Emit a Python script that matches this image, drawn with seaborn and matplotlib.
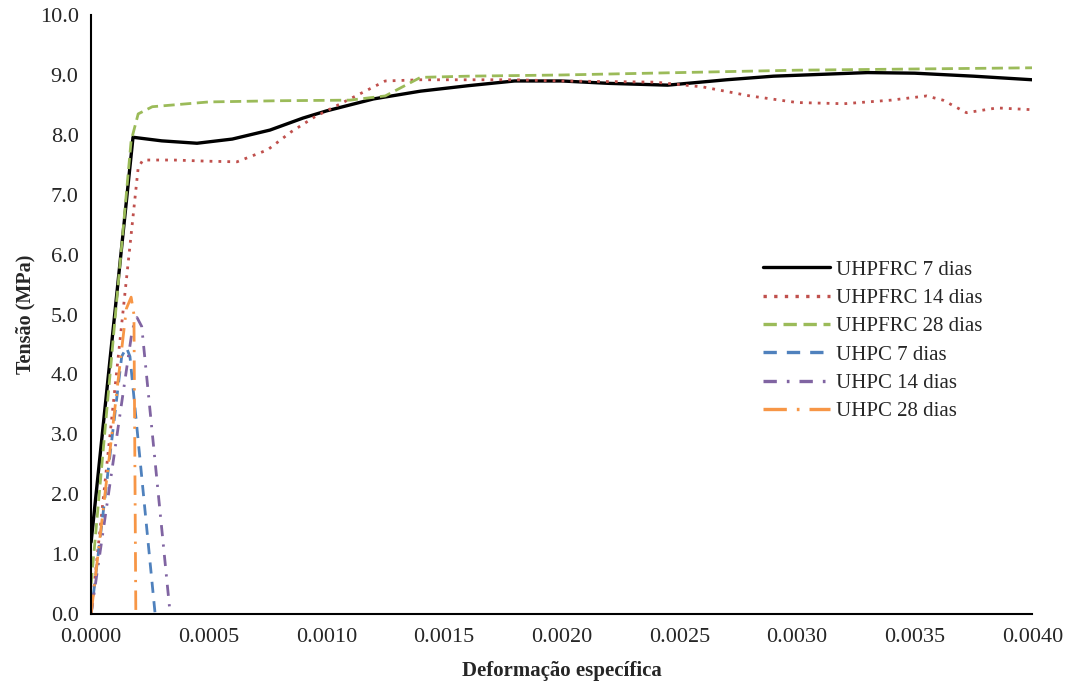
import numpy as np
import pandas as pd
import matplotlib
matplotlib.use("Agg")
import matplotlib.pyplot as plt
import seaborn as sns

# ---- data ----
frc7_x = [0.0, 0.000178, 0.00030, 0.00045, 0.00060, 0.00076, 0.00090, 0.00100, 0.00120, 0.00140,
          0.00160, 0.00180, 0.00200, 0.00220, 0.00245, 0.00270, 0.00290, 0.00310, 0.00330, 0.00350,
          0.00375, 0.00400]
frc7_y = [1.2, 7.96, 7.90, 7.86, 7.93, 8.08, 8.28, 8.40, 8.60, 8.73, 8.82, 8.90, 8.90, 8.86, 8.83,
          8.92, 8.98, 9.01, 9.04, 9.03, 8.98, 8.92]

frc14_x = [0.0, 0.000200, 0.000220, 0.00035, 0.00050, 0.00062, 0.00075, 0.00085, 0.00095, 0.00110,
           0.00125, 0.00140, 0.00180, 0.00200, 0.00240, 0.00260, 0.00280, 0.00300, 0.00320, 0.00340,
           0.00355, 0.00362, 0.00372, 0.00385, 0.00400]
frc14_y = [0.0, 7.45, 7.58, 7.58, 7.56, 7.55, 7.75, 8.05, 8.30, 8.60, 8.90, 8.92, 8.92, 8.90, 8.88,
           8.80, 8.65, 8.54, 8.52, 8.58, 8.65, 8.58, 8.37, 8.45, 8.42]

frc28_x = [0.0, 0.000170, 0.000200, 0.000260, 0.00050, 0.00080, 0.00110, 0.00125, 0.00140, 0.00160,
           0.00200, 0.00250, 0.00300, 0.00350, 0.00400]
frc28_y = [0.5, 7.90, 8.35, 8.47, 8.55, 8.57, 8.58, 8.65, 8.96, 8.98, 9.00, 9.04, 9.08, 9.10, 9.12]

uhpc7_x = [0.0, 0.000130, 0.000150, 0.000165, 0.000272]
uhpc7_y = [0.0, 4.30, 4.45, 4.30, 0.0]

uhpc14_x = [0.0, 0.000175, 0.000195, 0.000215, 0.000336]
uhpc14_y = [0.0, 4.75, 4.95, 4.80, 0.0]

uhpc28_x = [0.0, 0.000150, 0.000170, 0.000182, 0.000190]
uhpc28_y = [0.0, 5.10, 5.29, 5.00, 0.0]

labels = ["UHPFRC 7 dias", "UHPFRC 14 dias", "UHPFRC 28 dias",
          "UHPC 7 dias", "UHPC 14 dias", "UHPC 28 dias"]
xs = [frc7_x, frc14_x, frc28_x, uhpc7_x, uhpc14_x, uhpc28_x]
ys = [frc7_y, frc14_y, frc28_y, uhpc7_y, uhpc14_y, uhpc28_y]

x_ticks = [0.0, 0.0005, 0.0010, 0.0015, 0.0020, 0.0025, 0.0030, 0.0035, 0.0040]
y_ticks = [0, 1, 2, 3, 4, 5, 6, 7, 8, 9, 10]

rows = []
for lab, xx, yy in zip(labels, xs, ys):
    for a, b in zip(xx, yy):
        rows.append({"serie": lab, "x": a, "y": b})
df = pd.DataFrame(rows)

palette = {
    "UHPFRC 7 dias": "#000000",
    "UHPFRC 14 dias": "#C0504D",
    "UHPFRC 28 dias": "#9BBB59",
    "UHPC 7 dias": "#4F81BD",
    "UHPC 14 dias": "#8064A2",
    "UHPC 28 dias": "#F79646",
}
dashes = {
    "UHPFRC 7 dias": "",
    "UHPFRC 14 dias": (1, 2.2),
    "UHPFRC 28 dias": (4, 2),
    "UHPC 7 dias": (4, 3),
    "UHPC 14 dias": (4, 3, 0.8, 3),
    "UHPC 28 dias": (7, 3, 0.8, 3),
}

sns.set_theme(style="white")
plt.rcParams["font.family"] = ["Liberation Serif", "DejaVu Serif"]

fig = plt.figure(figsize=(10.72, 6.86), dpi=100)
ax = fig.add_axes([0.085, 0.105, 0.878, 0.873])

sns.lineplot(data=df, x="x", y="y", hue="serie", style="serie", palette=palette,
             dashes=dashes, hue_order=labels, style_order=labels, sort=False,
             estimator=None, units="serie", linewidth=2.0, ax=ax)
ax.get_lines()[0].set_linewidth(2.4)

ax.set_xlim(0, 0.004)
ax.set_ylim(0, 10)
ax.set_xticks(x_ticks)
ax.set_xticklabels([f"{v:.4f}" for v in x_ticks], fontsize=16)
ax.set_yticks(y_ticks)
ax.set_yticklabels([f"{v:.1f}" for v in y_ticks], fontsize=16)
ax.tick_params(axis="y", length=0, pad=9)
ax.tick_params(axis="x", length=0, pad=10)
for s in ["top", "right"]:
    ax.spines[s].set_visible(False)
for s in ["left", "bottom"]:
    ax.spines[s].set_color("black")
    ax.spines[s].set_linewidth(1.5)

ax.set_xlabel("Deformação específica", fontsize=15, fontweight="bold", labelpad=10)
ax.set_ylabel("Tensão (MPa)", fontsize=14.5, fontweight="bold", labelpad=3)

leg = ax.legend(loc="upper left", bbox_to_anchor=(0.705, 0.605), frameon=False,
                fontsize=15, handlelength=3.2, handletextpad=0.3, labelspacing=0.42,
                borderaxespad=0)
for h in leg.get_lines():
    h.set_linewidth(2.4)

fig.savefig("out.png", dpi=100)
